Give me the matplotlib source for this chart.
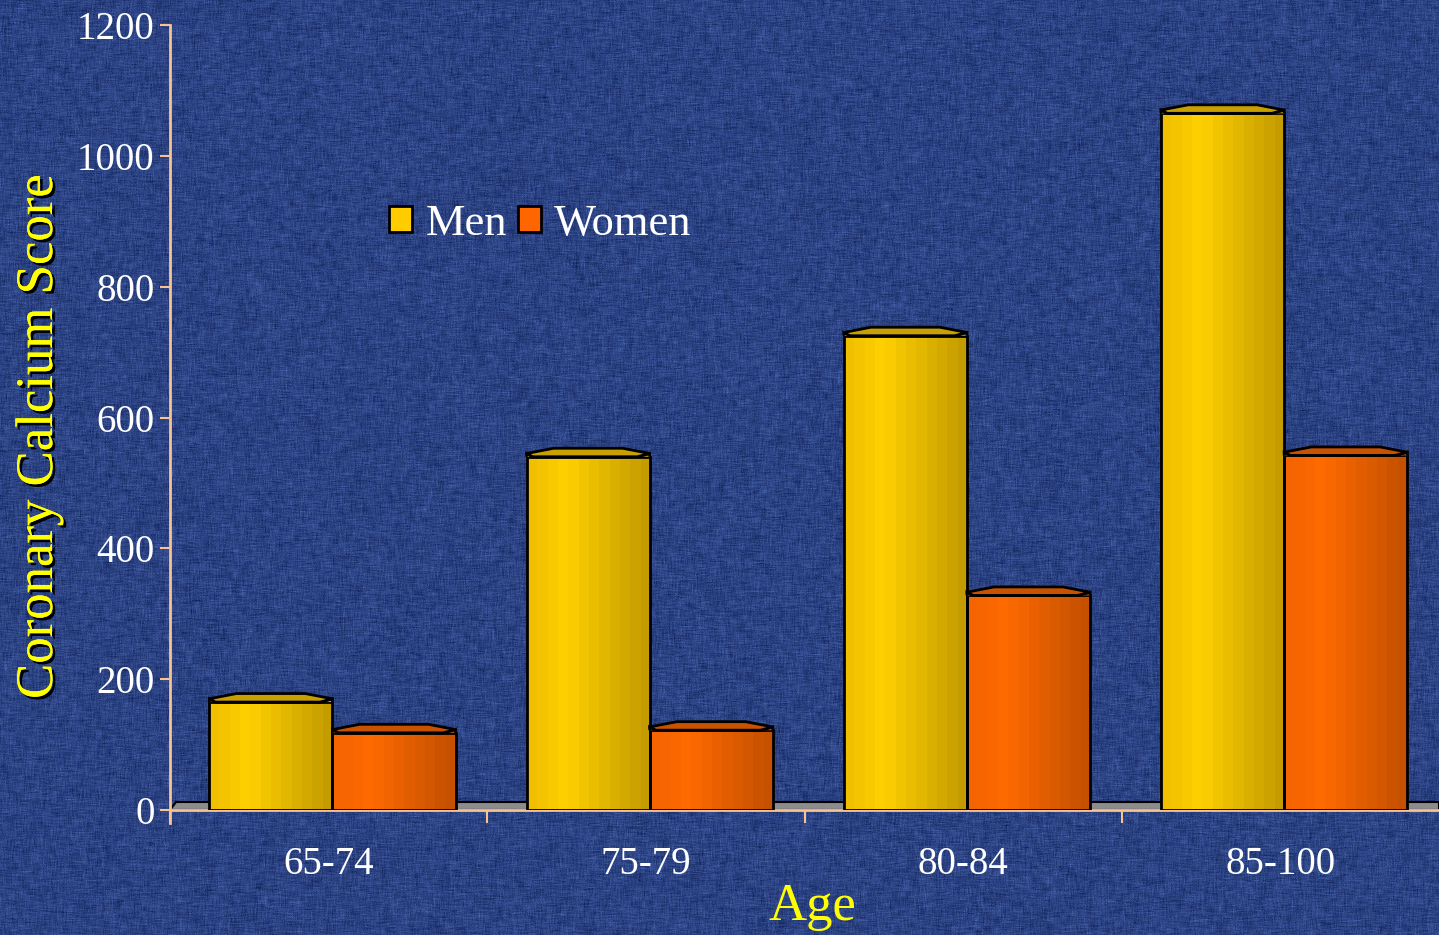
import numpy as np
import matplotlib.pyplot as plt
import matplotlib.patheffects as pe
from matplotlib.patches import Polygon, Rectangle
from matplotlib.colors import to_rgb

ages = ['65-74', '75-79', '80-84', '85-100']
men = [165, 540, 725, 1065]
women = [118, 122, 328, 542]

plt.rcParams['font.family'] = ['Liberation Serif', 'DejaVu Serif']

fig = plt.figure(figsize=(14.39, 9.35), dpi=100)

# denim-ish background
rng = np.random.default_rng(7)
H, W = 935, 1439
noise = rng.normal(size=(H, W))
k = np.ones(9) / 9
streak_h = np.apply_along_axis(lambda r: np.convolve(r, k, mode='same'), 1, noise)
streak_v = np.apply_along_axis(lambda c: np.convolve(c, k, mode='same'), 0, noise)
tex = 0.5 * noise + 1.2 * streak_h + 1.0 * streak_v
tex = tex / tex.std()
base = np.array(to_rgb('#2c4383'))
bg = np.clip(base[None, None, :] + 0.045 * tex[:, :, None] * np.array([0.7, 0.8, 1.0]), 0, 1)
bgax = fig.add_axes([0, 0, 1, 1], zorder=-10)
bgax.imshow(bg, aspect='auto', interpolation='bilinear')
bgax.axis('off')

ax = fig.add_axes([170 / 1439, 1 - 810 / 935, 1 - 170 / 1439, 785 / 935])
ax.set_facecolor('none')

x = np.arange(len(ages))
w = 0.388
shift = 0.012
peach = '#f7c393'


def gradient(c_left, c_mid, c_right, n=12):
    cols = []
    for t in np.linspace(0, 1, n):
        if t < 0.3:
            a = t / 0.3
            c = (1 - a) * np.array(to_rgb(c_left)) + a * np.array(to_rgb(c_mid))
        else:
            a = (t - 0.3) / 0.7
            c = (1 - a) * np.array(to_rgb(c_mid)) + a * np.array(to_rgb(c_right))
        cols.append(c)
    return np.array(cols)[None, :, :]


styles = [
    (men, -w / 2, ('#f0c000', '#ffd000', '#c49c00'), '#c8a000', '#d9ae00'),
    (women, w / 2, ('#f46400', '#ff6a00', '#c45000'), '#c85200', '#e05c00'),
]

s_up = 5   # side corner rise of the cap
d_up = 13  # back edge rise of the cap

# grey floor
floor = Polygon([(-0.5, 0), (3.5, 0), (3.5, 12), (-0.48, 12)], closed=True,
                facecolor='#8c8c8c', edgecolor='black', lw=1.5, zorder=2)
ax.add_patch(floor)

for vals, off, grad, capc, frontc in styles:
    bars = ax.bar(x + off + shift, vals, w, facecolor='none', edgecolor='black', lw=2, zorder=4)
    g = gradient(*grad)
    for p in bars.patches:
        x0, bw, h = p.get_x(), p.get_width(), p.get_height()
        im = ax.imshow(g, extent=(x0, x0 + bw, 0, h), aspect='auto', zorder=3,
                       interpolation='nearest')
        im.set_clip_path(p)
        x1 = x0 + bw
        front = Polygon([(x0, h), (x0, h + s_up), (x0 + 0.05 * bw, h), (x1 - 0.1 * bw, h),
                         (x1, h + s_up), (x1, h)], closed=False,
                        facecolor=frontc, edgecolor='black', lw=2, zorder=5)
        ax.add_patch(front)
        cap = Polygon([(x0, h + s_up), (x0 + 0.22 * bw, h + d_up), (x1 - 0.22 * bw, h + d_up),
                       (x1, h + s_up), (x1 - 0.1 * bw, h), (x0 + 0.05 * bw, h)], closed=True,
                      facecolor=capc, edgecolor='black', lw=2, zorder=6, joinstyle='round')
        ax.add_patch(cap)

ax.set_xlim(-0.5, 3.5)
ax.set_ylim(0, 1200)
ax.set_yticks(np.arange(0, 1201, 200))
ax.set_xticks(np.arange(-0.5, 3.5, 1))
ax.set_xticklabels([])
ax.set_xticks(x, labels=ages, minor=True)
ax.tick_params(axis='x', which='major', direction='out', length=9, width=1.5, color=peach)
ax.tick_params(axis='x', which='minor', length=0, pad=26, labelsize=28, labelcolor='white')
ax.tick_params(axis='y', direction='out', length=7, width=1.5, color=peach,
               labelsize=28, labelcolor='white', pad=4)
for sp in ['top', 'right']:
    ax.spines[sp].set_visible(False)
for sp in ['left', 'bottom']:
    ax.spines[sp].set_color(peach)
    ax.spines[sp].set_linewidth(2)
ax.spines['left'].set_bounds(-20, 1200)

shadow = [pe.withSimplePatchShadow(offset=(2, -2), shadow_rgbFace='black', alpha=1.0), pe.Normal()]
fig.text(812 / 1439, 1 - 907 / 935, 'Age', color='#ffff00', fontsize=38,
         ha='center', va='center')
fig.text(39 / 1439, 1 - 437 / 935, 'Coronary Calcium Score', color='#ffff00', fontsize=38,
         ha='center', va='center', rotation=90, path_effects=shadow)

handles = [Rectangle((0, 0), 1, 1, facecolor='#ffcc00', edgecolor='black', lw=2),
           Rectangle((0, 0), 1, 1, facecolor='#ff6600', edgecolor='black', lw=2)]
fig.legend(handles, ['Men', 'Women'], loc='center left', ncol=2,
           bbox_to_anchor=(389 / 1439, 1 - 224 / 935), frameon=False,
           borderpad=0, borderaxespad=0,
           prop={'size': 32}, labelcolor='white', handlelength=0.52, handleheight=0.52,
           handletextpad=0.3, columnspacing=0.25)

fig.savefig('out.png', dpi=100)
